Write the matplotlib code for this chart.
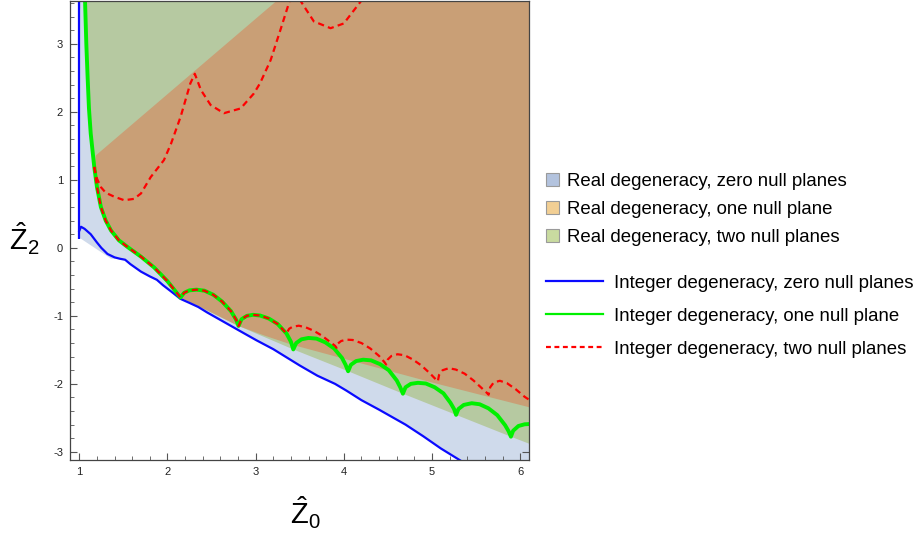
import matplotlib
matplotlib.use("Agg")
import matplotlib.pyplot as plt
from matplotlib.lines import Line2D
from matplotlib.patches import Patch
from matplotlib.ticker import MultipleLocator

OUTPUT_FILENAME = "out.png"

# --- data ---
# integer degeneracy, zero null planes (blue)
blue_x = [1.0, 1.02, 1.06, 1.13, 1.20, 1.25, 1.32, 1.40, 1.46, 1.52, 1.58, 1.70, 1.80,
          1.88, 1.95, 2.05, 2.147, 2.25, 2.35, 2.45, 2.60, 2.75, 2.90, 3.01, 3.20, 3.35,
          3.50, 3.70, 3.90, 4.03, 4.20, 4.40, 4.70, 4.90, 5.10, 5.35, 5.45]
blue_y = [0.25, 0.31, 0.28, 0.20, 0.08, 0.0, -0.09, -0.14, -0.16, -0.175, -0.24, -0.35, -0.42,
          -0.47, -0.55, -0.65, -0.75, -0.81, -0.87, -0.95, -1.06, -1.17, -1.28, -1.36, -1.49, -1.61,
          -1.73, -1.88, -2.00, -2.10, -2.24, -2.38, -2.60, -2.77, -2.95, -3.15, -3.23]
blue_stem_x = [1.0, 1.0]
blue_stem_y = [4.0, 0.13]

# integer degeneracy, one null plane (green)
green_x = [1.064, 1.08, 1.095, 1.11, 1.13, 1.17, 1.20, 1.245, 1.30, 1.36, 1.45, 1.55, 1.70,
           1.85, 2.0, 2.147,
           2.19, 2.25, 2.33, 2.42, 2.52, 2.62, 2.72, 2.78, 2.806,
           2.84, 2.90, 2.97, 3.05, 3.15, 3.25, 3.35, 3.40, 3.427,
           3.46, 3.52, 3.60, 3.69, 3.79, 3.89, 3.98, 4.02, 4.049,
           4.08, 4.14, 4.22, 4.31, 4.41, 4.51, 4.60, 4.64, 4.670,
           4.70, 4.76, 4.84, 4.93, 5.03, 5.13, 5.21, 5.25, 5.273,
           5.30, 5.36, 5.45, 5.54, 5.64, 5.74, 5.83, 5.87, 5.895,
           5.92, 5.98, 6.05, 6.12]
green_y = [3.70, 3.0, 2.5, 2.05, 1.68, 1.19, 0.90, 0.60, 0.40, 0.255, 0.11, 0.01, -0.13,
           -0.29, -0.49, -0.73,
           -0.66, -0.625, -0.615, -0.63, -0.69, -0.79, -0.93, -1.06, -1.149,
           -1.05, -1.00, -0.985, -0.995, -1.04, -1.12, -1.26, -1.38, -1.494,
           -1.40, -1.345, -1.325, -1.335, -1.39, -1.48, -1.62, -1.72, -1.815,
           -1.72, -1.665, -1.645, -1.655, -1.71, -1.80, -1.95, -2.05, -2.145,
           -2.05, -2.00, -1.985, -1.995, -2.05, -2.14, -2.28, -2.37, -2.456,
           -2.37, -2.31, -2.285, -2.30, -2.36, -2.46, -2.61, -2.70, -2.777,
           -2.69, -2.62, -2.595, -2.59]

# integer degeneracy, two null planes (red): lower branch leaves the green curve near x=3.36
red_low_x = [3.36, 3.38, 3.42, 3.49, 3.57, 3.66, 3.75, 3.84, 3.90, 3.918,
             3.93, 3.97, 4.03, 4.10, 4.20, 4.30, 4.40, 4.46, 4.48,
             4.50, 4.54, 4.61, 4.69, 4.78, 4.88, 4.98, 5.04, 5.066,
             5.08, 5.12, 5.19, 5.27, 5.37, 5.47, 5.57, 5.62, 5.642,
             5.66, 5.70, 5.77, 5.85, 5.95, 6.05, 6.12]
red_low_y = [-1.26, -1.19, -1.16, -1.145, -1.17, -1.22, -1.29, -1.38, -1.44, -1.47,
             -1.41, -1.37, -1.35, -1.355, -1.40, -1.48, -1.59, -1.68, -1.716,
             -1.64, -1.59, -1.565, -1.58, -1.64, -1.73, -1.85, -1.93, -1.963,
             -1.87, -1.80, -1.77, -1.79, -1.85, -1.95, -2.07, -2.13, -2.16,
             -2.05, -1.98, -1.955, -1.99, -2.08, -2.19, -2.25]
red_up_x = [1.17, 1.20, 1.247, 1.30, 1.40, 1.51, 1.62, 1.70, 1.81, 1.96, 2.04, 2.15, 2.26,
            2.31, 2.38, 2.49, 2.64, 2.83, 2.98, 3.05, 3.17, 3.28, 3.39, 3.445,
            3.50, 3.66, 3.85, 4.00, 4.19, 4.24]
red_up_y = [1.19, 1.02, 0.89, 0.81, 0.75, 0.70, 0.72, 0.80, 1.04, 1.29, 1.53, 1.93, 2.42,
            2.56, 2.32, 2.10, 1.98, 2.05, 2.27, 2.42, 2.76, 3.20, 3.65, 3.85,
            3.65, 3.33, 3.23, 3.30, 3.62, 3.75]

# real degeneracy region boundaries
blue_edge_x = [1.0, 1.36] + blue_x[8:]
blue_edge_y = [0.15, -0.16] + blue_y[8:]
orange_low_x = [2.147, 2.50, 2.806, 3.10, 3.40, 4.00, 5.00, 6.12]
orange_low_y = [-0.73, -0.95, -1.149, -1.29, -1.42, -1.63, -1.98, -2.35]
green_low_x = [2.147, 2.806, 3.427, 4.049, 4.670, 5.273, 5.895, 6.12]
green_low_y = [-0.73, -1.149, -1.494, -1.815, -2.145, -2.456, -2.777, -2.89]
wedge_x = [1.189, 3.30]
wedge_y = [1.36, 3.70]

X_LIM = (0.895, 6.10)
Y_LIM = (-3.12, 3.63)
TOP, RIGHT = 4.0, 6.3

COLOR_BLUE_FILL = "#cfdaeb"
COLOR_GREEN_FILL = "#b6c9a1"
COLOR_ORANGE_FILL = "#c99f76"
LEGEND_LABELS = ["Real degeneracy, zero null planes", "Real degeneracy, one null plane",
                 "Real degeneracy, two null planes", "Integer degeneracy, zero null planes",
                 "Integer degeneracy, one null plane", "Integer degeneracy, two null planes"]
LEGEND_SIZE = 13.4

plt.rcParams["font.family"] = ["Liberation Sans", "DejaVu Sans"]
plt.rcParams["mathtext.fontset"] = "custom"
plt.rcParams["mathtext.rm"] = "Liberation Sans"
plt.rcParams["mathtext.it"] = "Liberation Sans"
plt.rcParams["axes.unicode_minus"] = False


def draw_regions(ax):
    # light blue: everything above the lower edge and right of x=1
    bx = [1.0] + blue_edge_x + [RIGHT, RIGHT, 1.0]
    by = [TOP] + blue_edge_y + [blue_edge_y[-1], TOP, TOP]
    ax.fill(bx, by, color=COLOR_BLUE_FILL, lw=0, zorder=1)

    # green: right of the green curve, above the line through the cusps
    n_cusp = green_x.index(2.147) + 1
    gx = green_x[:n_cusp] + green_low_x[1:] + [RIGHT, RIGHT]
    gy = green_y[:n_cusp] + green_low_y[1:] + [green_low_y[-1], TOP]
    ax.fill(gx, gy, color=COLOR_GREEN_FILL, lw=0, zorder=2)

    # orange: below the wedge line, above the lower edge
    i0 = green_x.index(1.17)
    ox = wedge_x + [RIGHT, RIGHT] + orange_low_x[::-1] + green_x[i0:n_cusp][::-1]
    oy = wedge_y + [TOP, orange_low_y[-1]] + orange_low_y[::-1] + green_y[i0:n_cusp][::-1]
    ax.fill(ox, oy, color=COLOR_ORANGE_FILL, lw=0, zorder=3)


def draw_curves(ax):
    ax.plot(blue_stem_x, blue_stem_y, color="#0a0aff", lw=1.6, zorder=5, solid_capstyle="butt")
    ax.plot(blue_x, blue_y, color="#0a0aff", lw=1.6, zorder=5)
    ax.plot(green_x, green_y, color="#00f000", lw=2.8, zorder=6, solid_joinstyle="round")

    i0 = green_x.index(1.17)
    i1 = green_x.index(3.35)
    red_x = green_x[i0:i1 + 1] + red_low_x[1:]
    red_y = green_y[i0:i1 + 1] + red_low_y[1:]
    for xs, ys in [(red_x, red_y), (red_up_x, red_up_y)]:
        ax.plot(xs, ys, color="#ff0000", lw=1.6, zorder=7, dashes=(2.8, 1.9))


def style_axes(ax):
    ax.set_xlim(*X_LIM)
    ax.set_ylim(*Y_LIM)
    ax.xaxis.set_major_locator(MultipleLocator(1))
    ax.xaxis.set_minor_locator(MultipleLocator(0.2))
    ax.yaxis.set_major_locator(MultipleLocator(1))
    ax.yaxis.set_minor_locator(MultipleLocator(0.2))
    ax.tick_params(which="both", direction="in", top=True, right=True, color="#555555",
                   labelsize=8, labelcolor="#222222", pad=5)
    ax.tick_params(which="major", length=4.8, width=0.8)
    ax.tick_params(which="minor", length=2.8, width=0.6)
    for spine in ax.spines.values():
        spine.set_color("#444444")
        spine.set_linewidth(0.9)
        spine.set_zorder(10)


def draw_legend(fig):
    region_handles = [Patch(facecolor=c, edgecolor="#9a9a9a", lw=0.8)
                      for c in ["#b3c3de", "#f2cf94", "#c9dba0"]]
    line_handles = [Line2D([], [], color="#0a0aff", lw=1.6),
                    Line2D([], [], color="#00f000", lw=1.6),
                    Line2D([], [], color="#ff0000", lw=1.6, dashes=(2.2, 1.6))]
    fig.legend(region_handles, LEGEND_LABELS[:3], loc="upper left",
               bbox_to_anchor=(546 / 920, 1 - 173 / 538), frameon=False, fontsize=LEGEND_SIZE,
               handlelength=0.7, handleheight=0.7, handletextpad=0.43, labelspacing=0.6,
               borderpad=0, borderaxespad=0)
    fig.legend(line_handles, LEGEND_LABELS[3:], loc="upper left",
               bbox_to_anchor=(546 / 920, 1 - 274.5 / 538), frameon=False, fontsize=LEGEND_SIZE,
               handlelength=3.06, handletextpad=0.59, labelspacing=0.87,
               borderpad=0, borderaxespad=0)


def main():
    fig = plt.figure(figsize=(9.2, 5.38), dpi=100)
    ax = fig.add_axes([70 / 920, 78 / 538, 459 / 920, 459 / 538])

    draw_regions(ax)
    draw_curves(ax)
    style_axes(ax)
    draw_legend(fig)

    fig.text(305 / 920, 1 - 513 / 538, r"$\hat{\mathrm{Z}}_0$", fontsize=21, ha="center", va="center")
    fig.text(24 / 920, 1 - 239 / 538, r"$\hat{\mathrm{Z}}_2$", fontsize=21, ha="center", va="center")

    fig.savefig(OUTPUT_FILENAME, dpi=100)


if __name__ == "__main__":
    main()
